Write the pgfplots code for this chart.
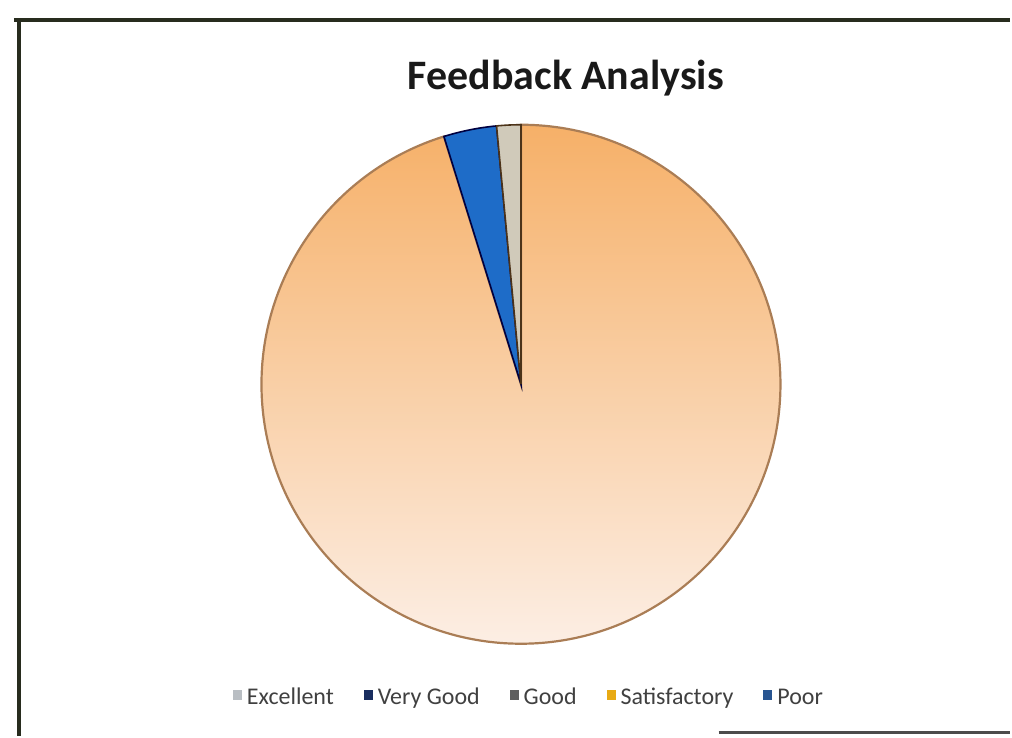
\documentclass[border=0pt]{standalone}
\usepackage{pgfplots}
\pgfplotsset{compat=1.18}
\usepackage{pgfplotstable}
\usepackage{fontspec}
\setmainfont{Carlito}

\definecolor{pieTop}{RGB}{246,176,104}
\definecolor{pieMid}{RGB}{250,212,170}
\definecolor{pieBot}{RGB}{252,238,228}
\definecolor{pieEdge}{RGB}{170,125,85}
\definecolor{sliceBlue}{RGB}{30,108,200}
\definecolor{sliceGray}{RGB}{208,202,186}
\definecolor{frameCol}{RGB}{40,44,30}
\definecolor{lgExc}{RGB}{185,190,195}
\definecolor{lgVG}{RGB}{25,45,95}
\definecolor{lgGood}{RGB}{95,95,95}
\definecolor{lgSat}{RGB}{232,170,20}
\definecolor{lgPoor}{RGB}{40,85,145}

% slices drawn clockwise from 12 o'clock (percent of the whole)
\pgfplotstableread{
label value
Satisfactory 95.2
VeryGood 3.3
Excellent 1.5
}\piedata

\begin{document}
\begin{tikzpicture}
\pgfplotstablegetelem{0}{value}\of\piedata \let\va\pgfplotsretval
\pgfplotstablegetelem{1}{value}\of\piedata \let\vb\pgfplotsretval
\pgfplotstablegetelem{2}{value}\of\piedata \let\vc\pgfplotsretval
\pgfmathsetmacro\aA{90}
\pgfmathsetmacro\aB{90-3.6*\va}
\pgfmathsetmacro\aC{\aB-3.6*\vb}
\pgfmathsetmacro\aD{\aC-3.6*\vc}
\begin{axis}[
  scale only axis, width=506pt, height=368.5pt,
  xmin=0, xmax=1012, ymin=0, ymax=737,
  hide axis, clip=false,
  legend columns=5,
  legend style={at={(axis cs:531,37)}, anchor=center, draw=none, fill=none,
    font=\fontsize{12}{14}\selectfont, text=black!75,
    nodes={text height=1.6ex, text depth=0.45ex},
    /tikz/every even column/.append style={column sep=13pt},
    /tikz/every odd column/.append style={column sep=0.5pt}},
  legend image code/.code={\fill[#1] (0pt,-0.5pt) rectangle (4.5pt,4.5pt);},
]
\path (axis cs:0,0) rectangle (axis cs:1012,737);
% frame from the scanned sheet
\draw[frameCol, line width=2pt] (axis cs:14,717) -- (axis cs:1012,717);
\draw[frameCol, line width=2pt] (axis cs:19,718) -- (axis cs:19,0);
\draw[black!70, line width=1.5pt] (axis cs:720,3) -- (axis cs:1012,3);

% pie
\shade[top color=pieTop, middle color=pieMid, bottom color=pieBot, draw=pieEdge, line width=1.1pt]
  (axis cs:522,352) -- ++(\aA:130pt) arc[start angle=\aA, end angle=\aB, radius=130pt] -- cycle;
\filldraw[fill=sliceBlue, draw=black!75!blue, line width=0.8pt]
  (axis cs:522,352) -- ++(\aB:130pt) arc[start angle=\aB, end angle=\aC, radius=130pt] -- cycle;
\filldraw[fill=sliceGray, draw=black!60!brown, line width=0.8pt]
  (axis cs:522,352) -- ++(\aC:130pt) arc[start angle=\aC, end angle=\aD, radius=130pt] -- cycle;

\node[font=\fontsize{21}{24}\selectfont\bfseries, text=black!90] at (axis cs:567,659) {Feedback Analysis};

\addlegendimage{fill=lgExc, draw=none}\addlegendentry{Excellent}
\addlegendimage{fill=lgVG, draw=none}\addlegendentry{Very Good}
\addlegendimage{fill=lgGood, draw=none}\addlegendentry{Good}
\addlegendimage{fill=lgSat, draw=none}\addlegendentry{Satisfactory}
\addlegendimage{fill=lgPoor, draw=none}\addlegendentry{Poor}
\end{axis}
\end{tikzpicture}
\end{document}
